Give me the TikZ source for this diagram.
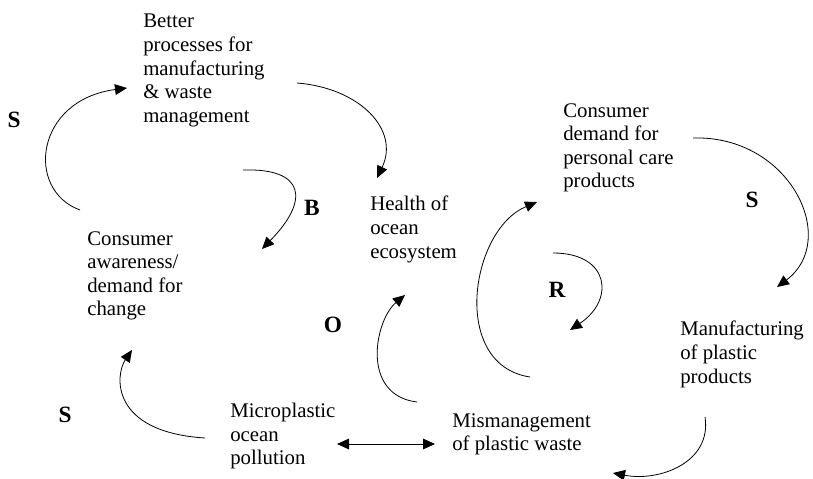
\documentclass[tikz,border=0pt]{standalone}
\usepackage{fontspec}
\setmainfont{Liberation Serif}
\usetikzlibrary{arrows.meta}

\tikzset{
  factor/.style={anchor=north west, inner sep=0pt, align=left,
    font=\fontsize{15.6}{17.7}\selectfont},
  looptag/.style={inner sep=0pt, font=\fontsize{17.5}{20}\selectfont\bfseries},
  link/.style={line width=0.6pt, -{Triangle[length=9pt,width=8pt]}}
}

\begin{document}
\begin{tikzpicture}[x=0.75pt,y=-0.75pt]
  \useasboundingbox (0,0) rectangle (813,478);

  \node[factor] (better) at (143,14) {Better\\processes for\\manufacturing\\\& waste\\management};
  \node[factor] (health) at (370,196) {Health of\\ocean\\ecosystem};
  \node[factor] (aware) at (87,231) {Consumer\\awareness/\\demand for\\change};
  \node[factor] (demand) at (563,103) {Consumer\\demand for\\personal care\\products};
  \node[factor] (manuf) at (680,321) {Manufacturing\\of plastic\\products};
  \node[factor] (mism) at (452,413) {Mismanagement\\of plastic waste};
  \node[factor] (micro) at (230,403) {Microplastic\\ocean\\pollution};

  \node[looptag] (s1) at (14,120) {S};
  \node[looptag] (b1) at (312,208) {B};
  \node[looptag] (o1) at (333,325) {O};
  \node[looptag] (r1) at (557,290) {R};
  \node[looptag] (s2) at (752,200) {S};
  \node[looptag] (s3) at (65,415) {S};

  \coordinate (aware-up) at (80,210);
  \coordinate (better-in) at (127,88);
  \coordinate (better-out) at (297,83);
  \coordinate (health-in) at (377,178);
  \coordinate (b-start) at (243,170);
  \coordinate (aware-in) at (262,249);
  \coordinate (micro-out) at (205,438);
  \coordinate (aware-low) at (132,350);
  \coordinate (mism-up) at (417,402);
  \coordinate (health-low) at (405,295);
  \coordinate (manuf-up) at (530,377);
  \coordinate (demand-in) at (537,202);
  \coordinate (r-start) at (553,253);
  \coordinate (r-end) at (570,330);
  \coordinate (demand-out) at (693,138);
  \coordinate (manuf-in) at (777,287);
  \coordinate (manuf-out) at (705,417);
  \coordinate (mism-in) at (613,473);
  \coordinate (micro-e) at (337,444);
  \coordinate (mism-w) at (435,444);

  \draw[link] (aware-up) .. controls (25,190) and (35,100) .. (better-in);
  \draw[link] (better-out) .. controls (360,88) and (400,130) .. (health-in);
  \draw[link] (b-start) .. controls (305,168) and (310,200) .. (aware-in);
  \draw[link] (micro-out) .. controls (110,432) and (115,375) .. (aware-low);
  \draw[link] (mism-up) .. controls (360,395) and (375,320) .. (health-low);
  \draw[link] (manuf-up) .. controls (450,365) and (470,230) .. (demand-in);
  \draw[link] (r-start) .. controls (610,253) and (615,300) .. (r-end);
  \draw[link] (demand-out) .. controls (790,135) and (840,240) .. (manuf-in);
  \draw[link] (manuf-out) .. controls (712,462) and (660,482) .. (mism-in);
  \draw[link, {Triangle[length=9pt,width=8pt]}-{Triangle[length=9pt,width=8pt]}] (micro-e) -- (mism-w);
\end{tikzpicture}
\end{document}
